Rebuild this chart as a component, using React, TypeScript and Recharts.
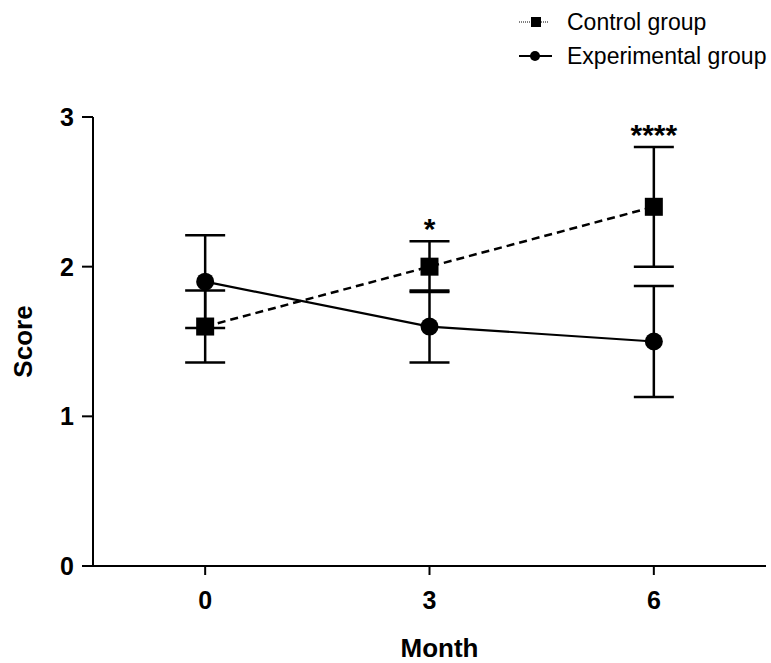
import React from "react";
import {
  ComposedChart,
  Line,
  XAxis,
  YAxis,
  ErrorBar,
  Legend,
  LabelList,
  Label,
} from "recharts";

// 그래프 데이터 (평균 ± 표준편차)
const months = [0, 3, 6];
const controlMean = [1.6, 2.0, 2.4];
const controlSd = [0.24, 0.17, 0.4];
const experimentalMean = [1.9, 1.6, 1.5];
const experimentalSd = [0.31, 0.24, 0.37];
const significance = ["", "*", "****"];
const yTicks = [0, 1, 2, 3];

const FONT = '"Liberation Sans", Arial, Helvetica, sans-serif';
const INK = "#000";

const data = months.map((m, i) => ({
  month: m,
  control: controlMean[i],
  controlErr: controlSd[i],
  experimental: experimentalMean[i],
  experimentalErr: experimentalSd[i],
  sig: significance[i],
  sigY: controlMean[i] + controlSd[i],
}));

const SquareDot = (props: any) => {
  const { cx, cy } = props;
  if (cx == null || cy == null) return null;
  return <rect x={cx - 9} y={cy - 9} width={18} height={18} fill={INK} />;
};

const CircleDot = (props: any) => {
  const { cx, cy } = props;
  if (cx == null || cy == null) return null;
  return <circle cx={cx} cy={cy} r={9} fill={INK} />;
};

// 범례 (오른쪽 위)
const renderLegend = (props: any) => {
  const items = (props.payload || []).filter(
    (entry: any) => entry.type === "square" || entry.type === "circle"
  );
  return (
    <div style={{ fontFamily: FONT, fontSize: 23, color: INK }}>
      {items.map((entry: any) => (
        <div
          key={entry.value}
          style={{ display: "flex", alignItems: "center", height: 34 }}
        >
          <svg width={48} height={20}>
            {entry.type === "square" ? (
              <>
                <line
                  x1={0}
                  y1={10}
                  x2={30}
                  y2={10}
                  stroke={INK}
                  strokeWidth={1}
                  strokeDasharray="1 1"
                />
                <rect x={12} y={5} width={10} height={10} fill={INK} />
              </>
            ) : (
              <>
                <line x1={0} y1={10} x2={33} y2={10} stroke={INK} strokeWidth={2} />
                <circle cx={16} cy={10} r={5} fill={INK} />
              </>
            )}
          </svg>
          <span>{entry.value}</span>
        </div>
      ))}
    </div>
  );
};

const labelStyle = {
  fill: INK,
  fontSize: 26,
  fontWeight: "bold",
  fontFamily: FONT,
};

export default function App() {
  return (
    <div style={{ position: "absolute", left: 0, top: 0, background: "#fff" }}>
      <ComposedChart
        width={771}
        height={663}
        data={data}
        margin={{ top: 117, right: 5, left: 0, bottom: 0 }}
      >
        <XAxis
          dataKey="month"
          type="number"
          domain={[-1.5, 7.5]}
          ticks={months}
          allowDataOverflow
          axisLine={{ stroke: INK, strokeWidth: 2 }}
          tickLine={{ stroke: INK, strokeWidth: 2 }}
          tickSize={9}
          tickMargin={16}
          height={97}
          tick={{ fill: INK, fontSize: 25, fontWeight: "bold", fontFamily: FONT }}
        >
          <Label value="Month" position="insideBottom" offset={6} dx={10} style={labelStyle} />
        </XAxis>
        <YAxis
          type="number"
          domain={[0, 3]}
          ticks={yTicks}
          width={93}
          axisLine={{ stroke: INK, strokeWidth: 2 }}
          tickLine={{ stroke: INK, strokeWidth: 2 }}
          tickSize={11}
          tickMargin={8}
          tick={{ fill: INK, fontSize: 25, fontWeight: "bold", fontFamily: FONT }}
        >
          <Label
            value="Score"
            angle={-90}
            position="insideLeft"
            offset={23}
            style={{ ...labelStyle, textAnchor: "middle" }}
          />
        </YAxis>
        <Legend
          layout="vertical"
          align="center"
          verticalAlign="middle"
          wrapperStyle={{ top: 5, left: 519, width: 260 }}
          content={renderLegend}
        />
        <Line
          name="Experimental group"
          dataKey="experimental"
          stroke={INK}
          strokeWidth={2.2}
          legendType="circle"
          dot={<CircleDot />}
          activeDot={false}
          isAnimationActive={false}
        >
          <ErrorBar
            dataKey="experimentalErr"
            direction="y"
            width={20}
            stroke={INK}
            strokeWidth={2.5}
          />
        </Line>
        <Line
          name="Control group"
          dataKey="control"
          stroke={INK}
          strokeWidth={2.5}
          strokeDasharray="8 5"
          legendType="square"
          dot={<SquareDot />}
          activeDot={false}
          isAnimationActive={false}
        >
          <ErrorBar
            dataKey="controlErr"
            direction="y"
            width={20}
            stroke={INK}
            strokeWidth={2.5}
          />
        </Line>
        {/* 유의성 표시 (*) */}
        <Line
          dataKey="sigY"
          stroke="none"
          dot={false}
          activeDot={false}
          legendType="none"
          isAnimationActive={false}
        >
          <LabelList
            dataKey="sig"
            position="top"
            offset={2}
            style={{ fill: INK, fontSize: 30, fontWeight: "bold", fontFamily: FONT }}
          />
        </Line>
      </ComposedChart>
    </div>
  );
}
